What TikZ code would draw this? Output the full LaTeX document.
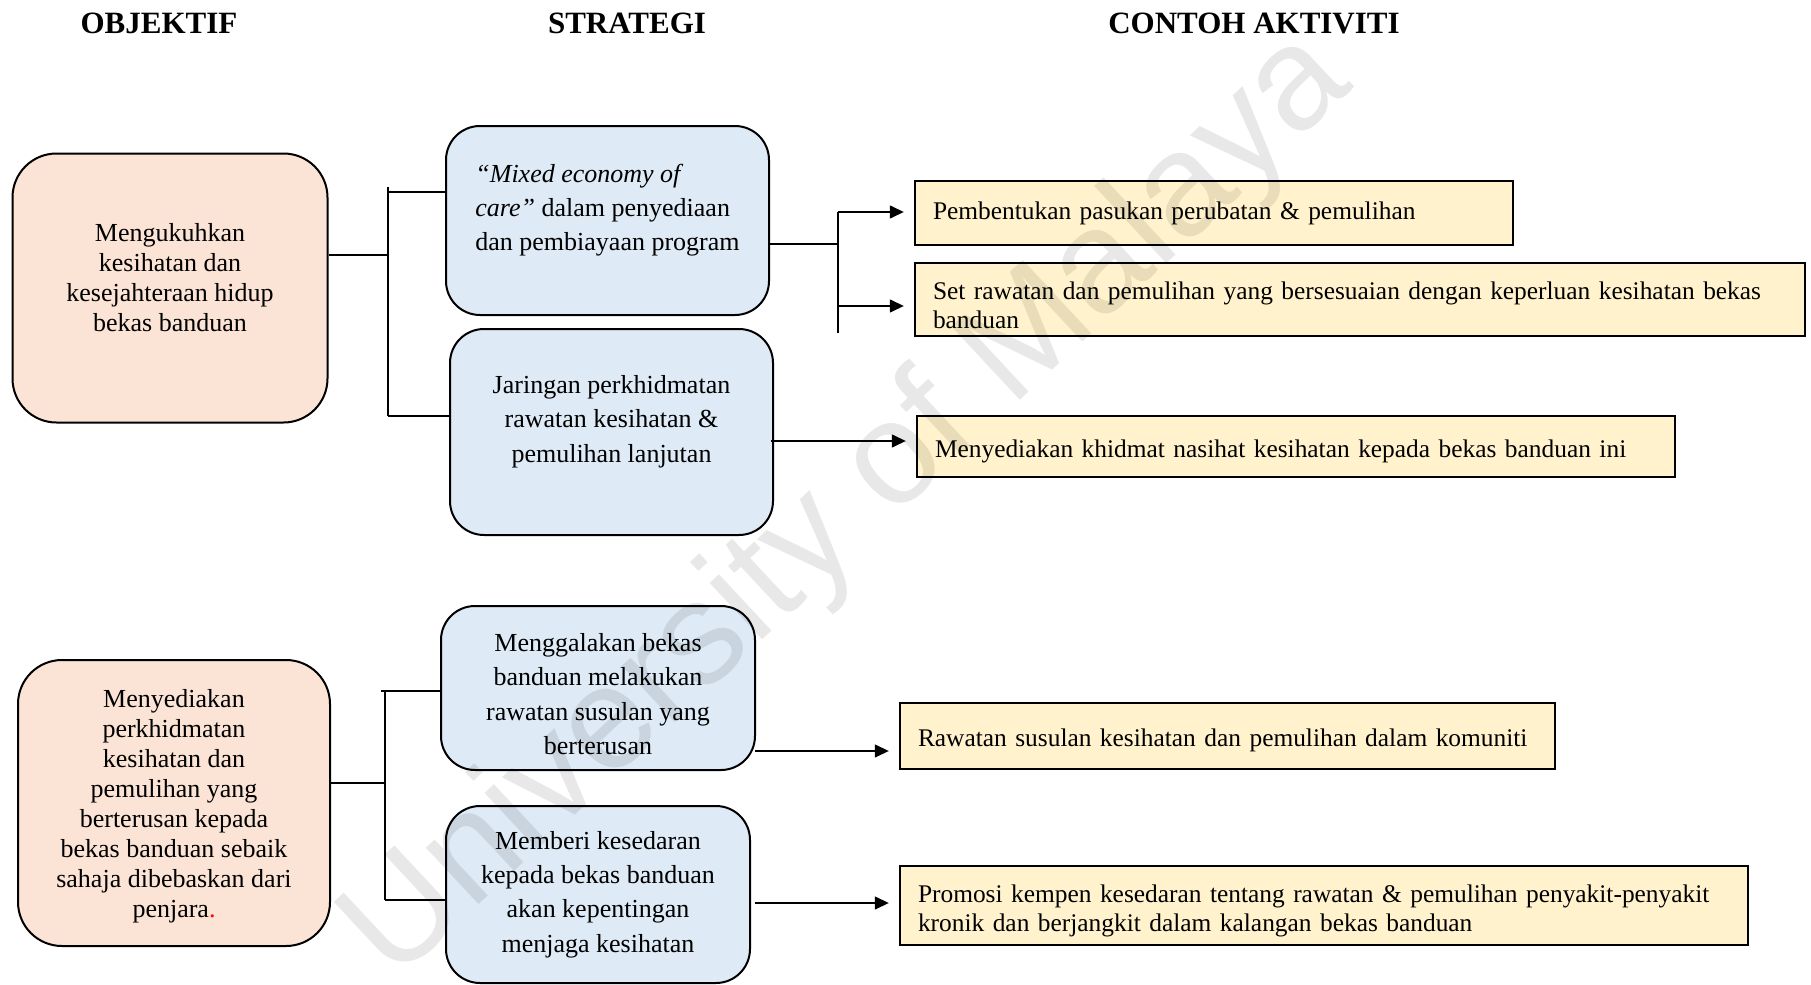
\documentclass[tikz,border=0pt]{standalone}
\usepackage{fontspec}
\setmainfont{Liberation Serif}
\setsansfont{Liberation Sans}
\usetikzlibrary{positioning,arrows.meta}
\definecolor{objfill}{HTML}{FBE4D5}
\definecolor{strfill}{HTML}{DEEAF6}
\definecolor{actfill}{HTML}{FFF2CC}

\begin{document}
\begin{tikzpicture}[
  x=0.5pt, y=-0.5pt,
  font=\fontsize{13}{15}\selectfont,
  hdr/.style={font=\fontsize{15.5}{18}\selectfont\bfseries},
  objbox/.style={draw, line width=1pt, rounded corners=22pt, fill=objfill, align=center, inner sep=4pt, font=\fontsize{13}{15}\selectfont},
  strbox/.style={draw, line width=1pt, rounded corners=17pt, fill=strfill, align=center, inner sep=4pt, font=\fontsize{13}{17.2}\selectfont},
  actbox/.style={draw, line width=1.2pt, fill=actfill, align=left, inner xsep=9pt, inner ysep=2pt, text width=#1, font=\fontsize{12.7}{14.5}\selectfont},
  link/.style={line width=0.9pt},
  arr/.style={line width=0.7pt, -{Triangle[length=7pt,width=6.5pt]}, shorten >=5pt},
  wmark/.style={font=\sffamily\fontsize{73}{73}\selectfont, text=black, text opacity=0.09, rotate=43}
]
\useasboundingbox (0,0) rectangle (1811,985);
% Coordinates are pixels of the 1811x985 layout (0.5pt each, y downwards);
% an empty first or last line (\mbox{}) nudges the text down or up inside
% a box the way the boxes show it.
\node[hdr] (hobj) at (159,23) {OBJEKTIF};
\node[hdr] (hstr) at (627,23) {STRATEGI};
\node[hdr] (hact) at (1254,23) {CONTOH AKTIVITI};

\node[objbox, minimum width=157.5pt, minimum height=134.5pt] (obj1) at (170,288) {
  Mengukuhkan\\kesihatan dan\\kesejahteraan hidup\\bekas banduan\\[-4pt]\mbox{}};
\node[objbox, minimum width=156pt, minimum height=143pt] (obj2) at (174,803) {
  \mbox{}\\[-2.5pt]Menyediakan\\perkhidmatan\\kesihatan dan\\pemulihan yang\\berterusan kepada\\bekas banduan sebaik\\sahaja dibebaskan dari\\penjara\textcolor{red}{.}};

\node[strbox, align=left, minimum width=161.5pt, minimum height=94.5pt] (str1) at (607.5,220.5) {
  \textit{“Mixed economy of}\\\textit{care”} dalam penyediaan\\dan pembiayaan program\\[-4pt]\mbox{}};
\node[strbox, minimum width=161.5pt, minimum height=103pt] (str2) at (611.5,432) {
  Jaringan perkhidmatan\\rawatan kesihatan \&\\pemulihan lanjutan\\[-4pt]\mbox{}};
\node[strbox, minimum width=157pt, minimum height=82pt] (str3) at (598,688) {
  \mbox{}\\[-2pt]Menggalakan bekas\\banduan melakukan\\rawatan susulan yang\\berterusan};
\node[strbox, minimum width=152pt, minimum height=88.5pt] (str4) at (598,894.5) {
  Memberi kesedaran\\kepada bekas banduan\\akan kepentingan\\menjaga kesihatan};

\node[actbox=281pt, minimum height=32pt] (act1) at (1214,213) {Pembentukan pasukan perubatan \& pemulihan};
\node[actbox=427pt, minimum height=36.5pt] (act2) at (1360,299.5) {\mbox{}\\[0pt]Set rawatan dan pemulihan yang bersesuaian dengan keperluan kesihatan bekas\\banduan};
\node[actbox=361pt, minimum height=30.5pt] (act3) at (1296,446.5) {\mbox{}\\[-1pt]Menyediakan khidmat nasihat kesihatan kepada bekas banduan ini};
\node[actbox=309.5pt, minimum height=33pt] (act4) at (1227.5,736) {\mbox{}\\[-1pt]Rawatan susulan kesihatan dan pemulihan dalam komuniti};
\node[actbox=406pt, minimum height=39.5pt] (act5) at (1324,905.5) {\mbox{}\\[0pt]Promosi kempen kesedaran tentang rawatan \& pemulihan penyakit-penyakit\\kronik dan berjangkit dalam kalangan bekas banduan};

% objektif 1 -> strategi
\coordinate (j1) at (388,255);
\coordinate (j1t) at (388,187);
\coordinate (j1b) at (388,416);
\coordinate (t1) at (388,192);
\draw[link] (obj1.east |- j1) -- (j1);
\draw[link] (j1t) -- (j1b);
\draw[link] (t1) -- (t1 -| str1.west);
\draw[link] (j1b) -- (j1b -| str2.west);

% strategi 1 -> aktiviti
\coordinate (k1) at (838,244);
\coordinate (k1t) at (838,212);
\coordinate (k1m) at (838,306);
\coordinate (k1b) at (838,333);
\draw[link] (str1.east |- k1) -- (k1);
\draw[link] (k1t) -- (k1b);
\draw[arr] (k1t) -- (k1t -| act1.west);
\draw[arr] (k1m) -- (k1m -| act2.west);

\coordinate (k2) at (771,441);
\draw[arr] (k2) -- (k2 -| act3.west);

% objektif 2 -> strategi
\coordinate (j2) at (385,783);
\coordinate (j2t) at (381,691);
\coordinate (j2b) at (385,900);
\draw[link] (obj2.east |- j2) -- (j2);
\draw[link] (j2 |- j2t) -- (j2b);
\draw[link] (j2t) -- (j2t -| str3.west);
\draw[link] (j2b) -- (j2b -| str4.west);

% strategi 3/4 -> aktiviti
\coordinate (k3) at (755,751);
\coordinate (k4) at (755,903);
\draw[arr] (k3) -- (k3 -| act4.west);
\draw[arr] (k4) -- (k4 -| act5.west);

\node[wmark] (wm) at (849,508) {University of Malaya};
\end{tikzpicture}
\end{document}
